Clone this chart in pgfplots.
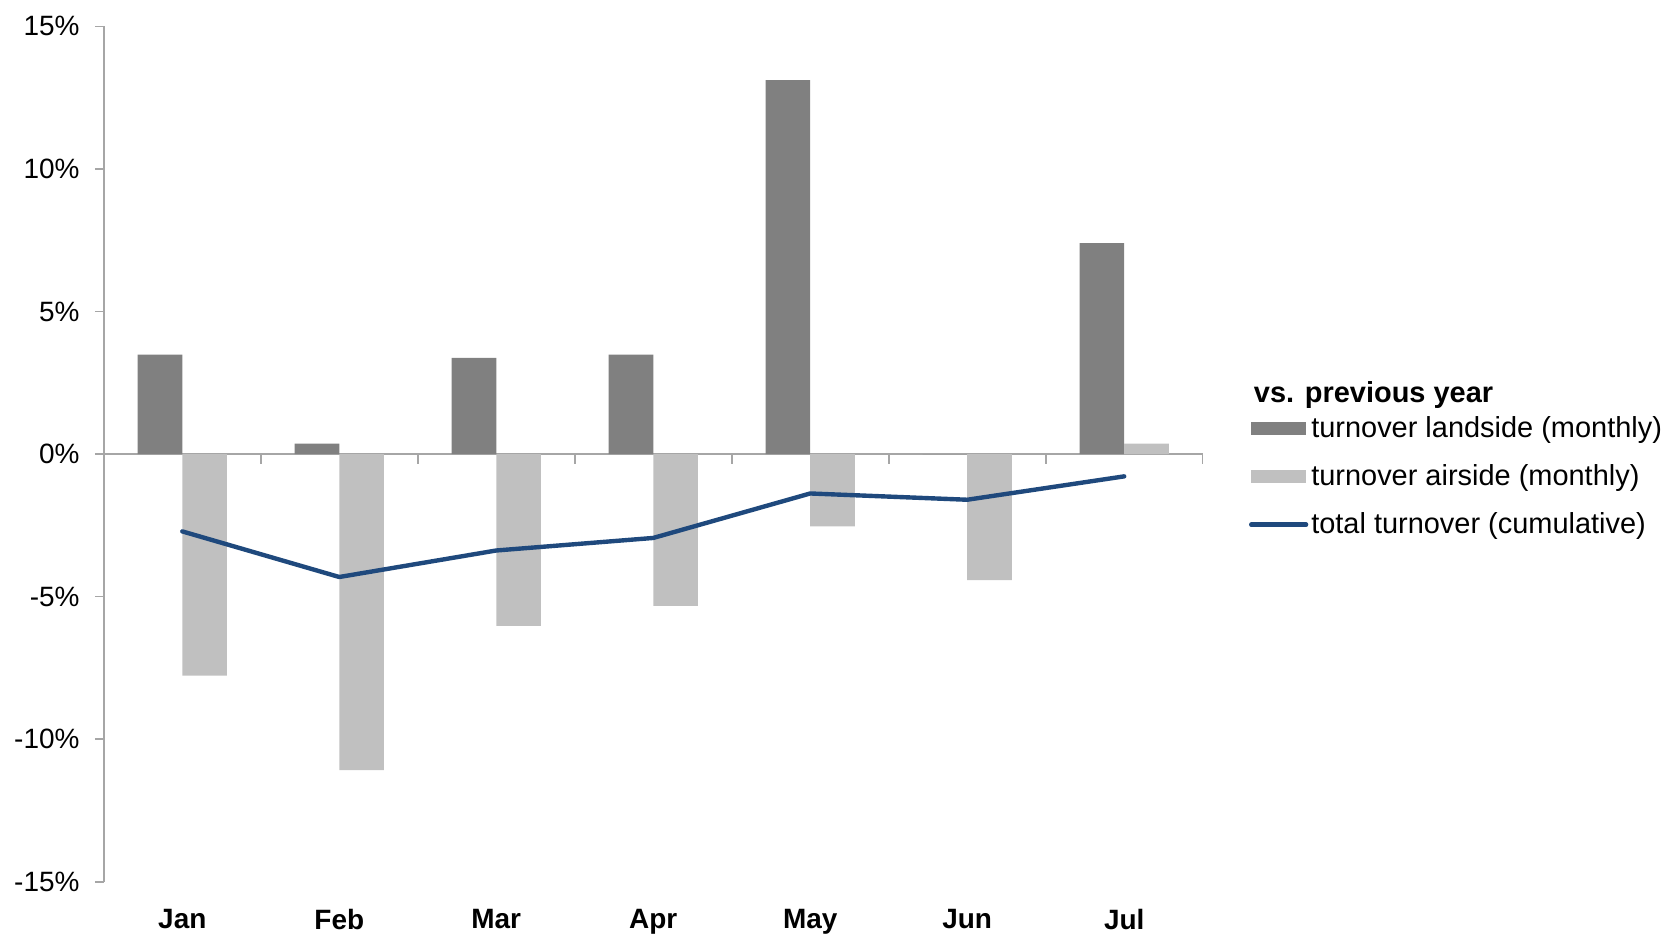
\documentclass[border=0pt]{standalone}
\usepackage{fontspec}
\setmainfont{Liberation Sans}
\usepackage{pgfplots}
\pgfplotsset{compat=1.18}
\definecolor{land}{RGB}{128,128,128}
\definecolor{air}{RGB}{192,192,192}
\definecolor{tot}{RGB}{31,73,125}
\definecolor{axgray}{RGB}{166,166,166}
\begin{document}
\begin{tikzpicture}
\begin{axis}[name=ax, scale only axis, width=550.5pt, height=428.5pt,
  xmin=-0.5, xmax=6.5, ymin=-15, ymax=15,
  clip=false,
  separate axis lines,
  axis x line*=bottom, axis y line*=left,
  x axis line style={draw=none},
  y axis line style={axgray, line width=1pt},
  xtick={0,...,6},
  xticklabels={Jan,Feb,Mar,Apr,May,Jun,Jul},
  xtick style={draw=none},
  xticklabel style={font=\bfseries\fontsize{14}{16}\selectfont, inner sep=0pt, anchor=north, yshift=-9pt},
  ytick={-15,-10,-5,0,5,10,15},
  yticklabels={-15\%,-10\%,-5\%,0\%,5\%,10\%,15\%},
  yticklabel style={font=\fontsize{14}{16}\selectfont, inner sep=0pt, anchor=east, xshift=-7.5pt},
  ytick style={axgray, line width=0.8pt},
  tick align=outside, major tick length=4.5pt,
  legend cell align=left,
  legend style={at={(1.0418,0.5580)}, anchor=north west, draw=none, fill=none, inner sep=0pt,
    font=\fontsize{14.5}{17}\selectfont, row sep=0pt,
    nodes={minimum height=24pt, inner sep=1.5pt}, cells={anchor=west}},
]
\draw[axgray, line width=0.8pt] (axis cs:-0.5,0) -- (axis cs:6.5,0);
\pgfplotsinvokeforeach{0.5,1.5,2.5,3.5,4.5,5.5,6.5}{
  \draw[axgray, line width=0.8pt] (axis cs:#1,0) -- ([yshift=-5pt]axis cs:#1,0);
}
\addplot[ybar, bar width=0.284, bar shift=-0.142, fill=land, draw=none,
  legend image code/.code={\fill[land] (0pt,-3.25pt) rectangle (27.5pt,3.25pt);}]
  coordinates {(0,3.49) (1,0.37) (2,3.38) (3,3.49) (4,13.12) (5,0) (6,7.40)};
\addlegendentry{turnover landside (monthly)}
\addplot[ybar, bar width=0.284, bar shift=0.142, fill=air, draw=none,
  legend image code/.code={\fill[air] (0pt,-3.25pt) rectangle (27.5pt,3.25pt);}]
  coordinates {(0,-7.77) (1,-11.08) (2,-6.02) (3,-5.32) (4,-2.53) (5,-4.42) (6,0.37)};
\addlegendentry{turnover airside (monthly)}
\addplot[tot, line width=2.2pt, mark=none, line cap=round, line join=round,
  legend image code/.code={\draw[tot, line width=2.2pt, line cap=round] (0pt,0pt) -- (27.5pt,0pt);}]
  coordinates {(0,-2.71) (1,-4.31) (2,-3.38) (3,-2.94) (4,-1.38) (5,-1.60) (6,-0.78)};
\addlegendentry{total turnover (cumulative)}
\node[anchor=west, font=\bfseries\fontsize{14.5}{17}\selectfont, inner sep=0pt] at (rel axis cs:1.0463,0.5690) {vs. previous year};
\end{axis}
\path (ax.south west) ++(-52pt,-26.25pt) rectangle ++(832.5pt,468pt);
\end{tikzpicture}
\end{document}
